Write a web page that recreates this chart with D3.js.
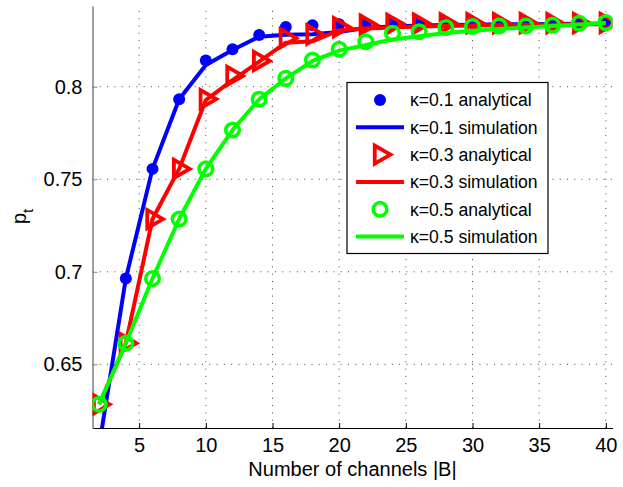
<!DOCTYPE html>
<html>
<head>
<meta charset="utf-8">
<script src="https://cdn.jsdelivr.net/npm/d3@7"></script>
<style>
  html, body { margin: 0; padding: 0; background: #fff; }
  text { font-family: "Liberation Sans", Arial, Helvetica, sans-serif; }
</style>
</head>
<body>
<svg id="chart" width="623" height="487"></svg>
<script>
// ---- data ----
const channels = [2,4,6,8,10,12,14,16,18,20,22,24,26,28,30,32,34,36,38,40];
const k01Analytical = [0.604,0.6964,0.7556,0.7932,0.8141,0.8202,0.8279,0.8322,0.8332,0.8338,0.8342,0.8343,0.8343,0.8344,0.8344,0.8344,0.8345,0.8345,0.8345,0.8345];
const k01Simulation = [0.606,0.6964,0.7556,0.7932,0.8117,0.8198,0.8270,0.8281,0.8283,0.8296,0.8318,0.8325,0.8330,0.8333,0.8335,0.8337,0.8338,0.8339,0.8340,0.8340];
const k03Analytical = [0.6284,0.6614,0.7285,0.7556,0.7933,0.8058,0.8139,0.8262,0.8282,0.8322,0.8335,0.8340,0.8341,0.8342,0.8343,0.8343,0.8344,0.8344,0.8344,0.8345];
const k03Simulation = [0.6284,0.6614,0.7285,0.7556,0.7928,0.8036,0.8135,0.8238,0.8245,0.8305,0.8315,0.8320,0.8325,0.8328,0.8330,0.8332,0.8334,0.8335,0.8337,0.8338];
const k05Analytical = [0.6284,0.6614,0.6964,0.7285,0.7556,0.7766,0.7932,0.8045,0.8144,0.8202,0.8243,0.8289,0.8297,0.8320,0.8325,0.8328,0.8328,0.8332,0.8343,0.8346];
const k05Simulation = [0.6284,0.6614,0.6964,0.7285,0.7556,0.7766,0.7932,0.8045,0.8139,0.8195,0.8225,0.8255,0.8272,0.8290,0.8302,0.8312,0.8320,0.8328,0.8336,0.8345];
const xTicks = [5,10,15,20,25,30,35,40];
const yTicks = [0.65,0.7,0.75,0.8];
const legendLabels = ["κ=0.1 analytical","κ=0.1 simulation","κ=0.3 analytical","κ=0.3 simulation","κ=0.5 analytical","κ=0.5 simulation"];
const xLabel = "Number of channels |B|";

// ---- layout ----
const svg = d3.select("#chart");
const L = 92.5, R = 612.5, T = 6, B = 428;
const x = d3.scaleLinear().domain([1.5, 40.5]).range([L, R]);
const y = d3.scaleLinear().domain([0.6156, 0.8436]).range([B, T]);

const blue = "#0000ff", red = "#ff0000", green = "#00ff00";

svg.append("defs").append("clipPath").attr("id","clip")
  .append("rect").attr("x", L).attr("y", T).attr("width", R - L).attr("height", B - T);

// grid
const grid = svg.append("g");
xTicks.forEach(t => grid.append("line")
  .attr("x1", x(t)).attr("x2", x(t)).attr("y1", B).attr("y2", T)
  .attr("stroke", "#444").attr("stroke-width", 1).attr("stroke-dasharray", "1,6.3"));
yTicks.forEach(t => grid.append("line")
  .attr("x1", L).attr("x2", R).attr("y1", y(t)).attr("y2", y(t))
  .attr("stroke", "#444").attr("stroke-width", 1).attr("stroke-dasharray", "1,6.3"));

// axes
const xAxis = d3.axisBottom(x).tickValues(xTicks).tickSizeInner(-5).tickSizeOuter(0).tickPadding(10);
const gx = svg.append("g").attr("transform", `translate(0,${B})`).call(xAxis);
gx.select(".domain").attr("stroke", "#000").attr("stroke-width", 1.2);
gx.selectAll(".tick line").attr("stroke", "#000");
gx.selectAll("text").attr("font-size", 20).attr("fill", "#000")
  .attr("font-family", "'Liberation Sans', Arial, sans-serif");

const yAxis = d3.axisLeft(y).tickValues(yTicks).tickFormat(d => String(d)).tickSizeInner(-5).tickSizeOuter(0).tickPadding(10);
const gy = svg.append("g").attr("transform", `translate(${L},0)`).call(yAxis);
gy.select(".domain").attr("stroke", "#808080").attr("stroke-width", 1.5);
gy.selectAll(".tick line").attr("stroke", "#808080");
gy.selectAll("text").attr("font-size", 20).attr("fill", "#000")
  .attr("font-family", "'Liberation Sans', Arial, sans-serif");

// labels
svg.append("text").attr("x", (L + R) / 2).attr("y", 476).attr("text-anchor", "middle")
  .attr("font-size", 20).text(xLabel);
const yl = svg.append("text").attr("transform", "translate(26,224) rotate(-90)")
  .attr("font-size", 20);
yl.append("tspan").text("p");
yl.append("tspan").attr("font-size", 15).attr("dy", 7).text("t");

// series
const plot = svg.append("g").attr("clip-path", "url(#clip)");
const lineGen = d3.line().x(d => x(d[0])).y(d => y(d[1]));
const tri = (r) => `M${r},0 L${-r/2},${-r*0.866} L${-r/2},${r*0.866} Z`;

function drawMarkers(vals, kind, color) {
  const pts = channels.map((c, i) => [c, vals[i]]);
  const g = plot.append("g");
  if (kind === "dot") {
    g.selectAll("circle").data(pts).enter().append("circle")
      .attr("cx", d => x(d[0])).attr("cy", d => y(d[1])).attr("r", 6).attr("fill", color);
  } else if (kind === "ring") {
    g.selectAll("circle").data(pts).enter().append("circle")
      .attr("cx", d => x(d[0])).attr("cy", d => y(d[1])).attr("r", 6.8)
      .attr("fill", "none").attr("stroke", color).attr("stroke-width", 3.5);
  } else {
    g.selectAll("path").data(pts).enter().append("path")
      .attr("transform", d => `translate(${x(d[0])},${y(d[1])})`)
      .attr("d", tri(10.5)).attr("fill", "none").attr("stroke", color)
      .attr("stroke-width", 3.8).attr("stroke-linejoin", "miter");
  }
}
function drawLine(vals, color) {
  plot.append("path").datum(channels.map((c, i) => [c, vals[i]]))
    .attr("d", lineGen).attr("fill", "none").attr("stroke", color)
    .attr("stroke-width", 4).attr("stroke-linejoin", "round");
}

drawMarkers(k01Analytical, "dot", blue);
drawLine(k01Simulation, blue);
drawMarkers(k03Analytical, "tri", red);
drawLine(k03Simulation, red);
drawMarkers(k05Analytical, "ring", green);
drawLine(k05Simulation, green);

// legend
const lg = svg.append("g");
lg.append("rect").attr("x", 347).attr("y", 82.5).attr("width", 201).attr("height", 171)
  .attr("fill", "#fff").attr("stroke", "#000").attr("stroke-width", 1.2);
const kinds = ["dot","line","tri","line","ring","line"];
const colors = [blue, blue, red, red, green, green];
legendLabels.forEach((lab, i) => {
  const cy = 100 + i * 27.3;
  if (kinds[i] === "line") {
    lg.append("line").attr("x1", 356).attr("x2", 404).attr("y1", cy).attr("y2", cy)
      .attr("stroke", colors[i]).attr("stroke-width", 4);
  } else if (kinds[i] === "dot") {
    lg.append("circle").attr("cx", 380).attr("cy", cy).attr("r", 6).attr("fill", colors[i]);
  } else if (kinds[i] === "ring") {
    lg.append("circle").attr("cx", 380).attr("cy", cy).attr("r", 6.8).attr("fill", "none")
      .attr("stroke", colors[i]).attr("stroke-width", 3.5);
  } else {
    lg.append("path").attr("transform", `translate(380,${cy})`).attr("d", tri(10.5))
      .attr("fill", "none").attr("stroke", colors[i]).attr("stroke-width", 3.8);
  }
  lg.append("text").attr("x", 410).attr("y", cy + 6.3).attr("font-size", 17.6).text(lab);
});
</script>
</body>
</html>
